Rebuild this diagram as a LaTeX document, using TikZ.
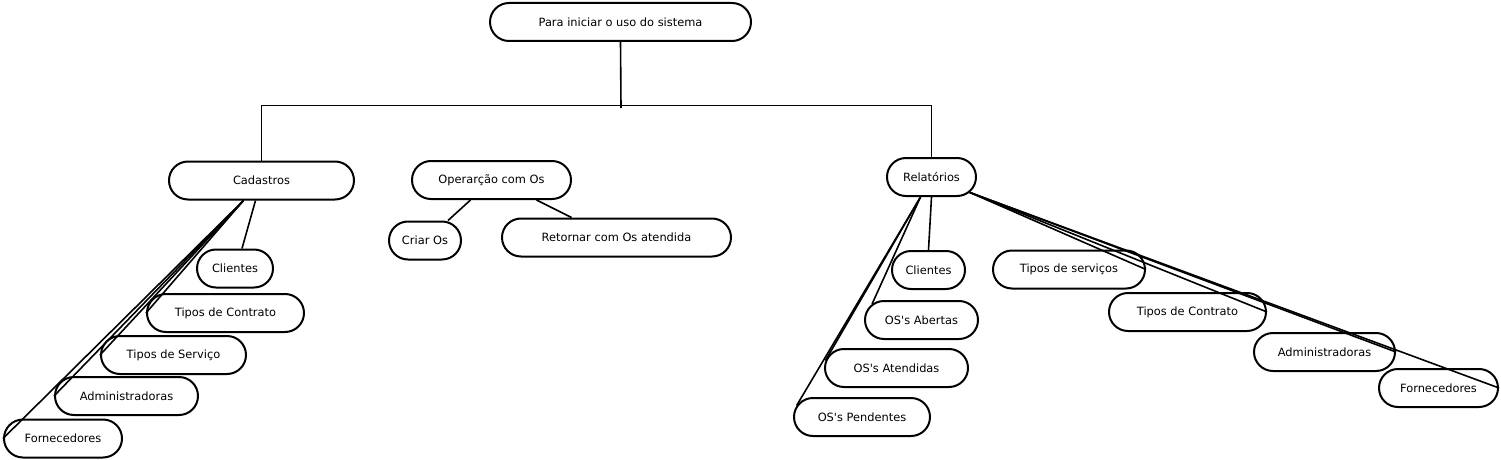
\documentclass[tikz,border=0pt]{standalone}
\usepackage{fontspec}
\setmainfont{DejaVu Sans}
\usetikzlibrary{shapes.misc,positioning}

\begin{document}
\begin{tikzpicture}[x=1pt, y=-1pt,
    ov/.style={draw, rounded rectangle, line width=2pt, inner sep=1pt,
      minimum height=38pt, font=\fontsize{11.4}{13}\selectfont},
    lk/.style={line width=1.6pt}]
  \useasboundingbox (0,0) rectangle (1501,460);

  \node[ov, minimum width=263pt] (inicio) at (620.5,22) {Para iniciar o uso do sistema};
  \node[ov, minimum width=187pt] (cad) at (261.5,180.5) {Cadastros};
  \node[ov, minimum width=161pt] (oper) at (491.5,180) {Operarção com Os};
  \node[ov, minimum width=91pt] (rel) at (931.5,177) {Relatórios};

  % cadastros
  \node[ov, minimum width=78pt] (cCli) at (235,268.5) {Clientes};
  \node[ov, minimum width=159pt] (cCon) at (225.5,313) {Tipos de Contrato};
  \node[ov, minimum width=147pt] (cSer) at (173.5,355) {Tipos de Serviço};
  \node[ov, minimum width=145pt] (cAdm) at (126.5,396) {Administradoras};
  \node[ov, minimum width=120pt] (cFor) at (63,438.5) {Fornecedores};

  % operacao
  \node[ov, minimum width=74pt] (criar) at (425,240.5) {Criar Os};
  \node[ov, minimum width=231pt] (retor) at (616.5,237.5) {Retornar com Os atendida};

  % relatorios
  \node[ov, minimum width=75pt] (rCli) at (928.5,270) {Clientes};
  \node[ov, minimum width=115pt] (rAbe) at (921.5,320) {OS\textquotesingle s Abertas};
  \node[ov, minimum width=145pt] (rAte) at (896.5,368) {OS\textquotesingle s Atendidas};
  \node[ov, minimum width=138pt] (rPen) at (862,417) {OS\textquotesingle s Pendentes};
  \node[ov, minimum width=154pt] (rSer) at (1069,269.5) {Tipos de serviços};
  \node[ov, minimum width=159pt] (rCon) at (1187.5,312) {Tipos de Contrato};
  \node[ov, minimum width=143pt] (rAdm) at (1324.5,352) {Administradoras};
  \node[ov, minimum width=121pt] (rFor) at (1438.5,388) {Fornecedores};

  \coordinate (hub) at (621,108);
  \draw[lk] (inicio.south) -- (hub);
  \draw[lk] (cad.north) -- ++(0,-55) -| (rel.north);

  \draw[lk] ([xshift=-6pt]cad.south) -- ([xshift=7pt]cCli.north);
  \foreach \n in {cCon,cSer,cAdm,cFor}
    \draw[lk] ([xshift=-18pt]cad.south) -- (\n.west);

  \draw[lk] ([xshift=-21pt]oper.south) -- ([xshift=23pt]criar.north);
  \draw[lk] ([xshift=45pt]oper.south) -- ([xshift=-45pt]retor.north);

  \draw[lk] (rel.south) -- (rCli.north);
  \draw[lk] ([xshift=-11pt]rel.south) -- (rAbe.162);
  \draw[lk] ([xshift=-11pt]rel.south) -- (rAte.174);
  \draw[lk] ([xshift=-11pt]rel.south) -- (rPen.170);
  \foreach \n in {rSer,rCon,rAdm,rFor}
    \draw[lk] (rel.-22) -- (\n.east);
\end{tikzpicture}
\end{document}
